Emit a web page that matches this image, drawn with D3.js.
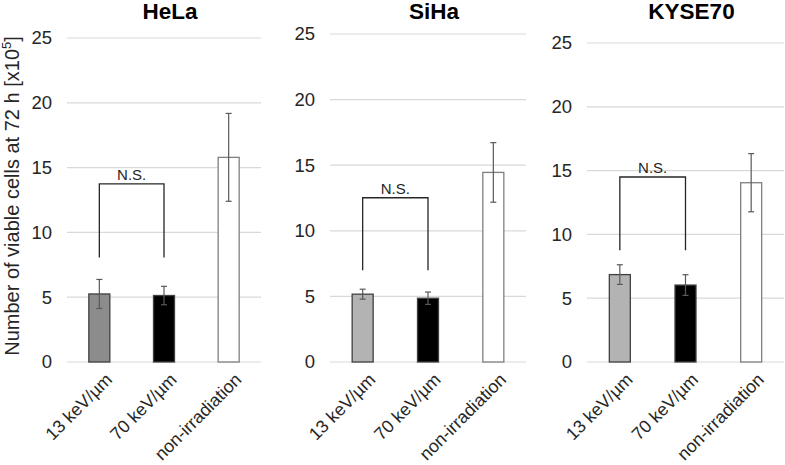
<!DOCTYPE html>
<html><head><meta charset="utf-8">
<script src="https://cdn.jsdelivr.net/npm/d3@7"></script>
<style>body{margin:0;background:#fff}svg{display:block;font-family:Arial,"Liberation Sans",sans-serif}</style>
</head><body><svg id="c" width="785" height="465"></svg>
<script>
const cellLines = ["HeLa", "SiHa", "KYSE70"];
const categories = ["13 keV/µm", "70 keV/µm", "non-irradiation"];
const helaMeans = [5.25, 5.13, 15.79];
const helaErrors = [1.12, 0.71, 3.39];
const sihaMeans = [5.17, 4.86, 14.45];
const sihaErrors = [0.38, 0.47, 2.27];
const kyseMeans = [6.85, 6.03, 14.05];
const kyseErrors = [0.77, 0.81, 2.28];
const bracketTops = [13.74, 12.52, 14.5];
const bracketLegs = [8.06, 7.0, 8.75];
const yTicks = [0, 5, 10, 15, 20, 25];
const yLabel = "Number of viable cells at 72 h [x10";

const panels = [
  {name: cellLines[0], means: helaMeans, errs: helaErrors, top: bracketTops[0], leg: bracketLegs[0], x0: 67, x1: 261, y0: 362, y1: 38, fill1: "#8c8c8c"},
  {name: cellLines[1], means: sihaMeans, errs: sihaErrors, top: bracketTops[1], leg: bracketLegs[1], x0: 330, x1: 526, y0: 362, y1: 34, fill1: "#b3b3b3"},
  {name: cellLines[2], means: kyseMeans, errs: kyseErrors, top: bracketTops[2], leg: bracketLegs[2], x0: 587, x1: 784, y0: 362, y1: 43, fill1: "#b3b3b3"}
];

const svg = d3.select("#c");

panels.forEach(p => {
  const g = svg.append("g");
  const x = d3.scaleBand().domain(categories).range([p.x0, p.x1]);
  const y = d3.scaleLinear().domain([0, 25]).range([p.y0, p.y1]);
  const bw = 21;
  const cx = c => x(c) + x.bandwidth() / 2;

  g.selectAll(".grid").data(yTicks).enter().append("line")
    .attr("x1", p.x0).attr("x2", p.x1)
    .attr("y1", d => y(d)).attr("y2", d => y(d))
    .attr("stroke", "#d9d9d9").attr("stroke-width", 1.2);

  const yAxis = d3.axisLeft(y).tickValues(yTicks).tickSize(0).tickPadding(15);
  const ya = g.append("g").attr("transform", `translate(${p.x0},0)`).call(yAxis);
  ya.select(".domain").remove();
  ya.selectAll("text").attr("font-size", 18.5).attr("fill", "#262626")
    .attr("font-family", "Arial, 'Liberation Sans', sans-serif");

  g.selectAll(".xl").data(categories).enter().append("text")
    .attr("transform", d => `translate(${cx(d) + 5},${p.y0 + 10}) rotate(-45)`)
    .attr("text-anchor", "end").attr("font-size", 17.8).attr("fill", "#262626")
    .attr("dy", "0.7em")
    .text(d => d);

  const fills = [p.fill1, "#000000", "#ffffff"];
  const strokes = ["#404040", "#404040", "#7f7f7f"];
  g.selectAll(".bar").data(categories).enter().append("rect")
    .attr("x", d => cx(d) - bw / 2).attr("width", bw)
    .attr("y", (d, i) => y(p.means[i]))
    .attr("height", (d, i) => y(0) - y(p.means[i]))
    .attr("fill", (d, i) => fills[i])
    .attr("stroke", (d, i) => strokes[i]).attr("stroke-width", 1.3);

  categories.forEach((c, i) => {
    const hi = y(p.means[i] + p.errs[i]), lo = y(p.means[i] - p.errs[i]);
    const col = "#595959";
    g.append("line").attr("x1", cx(c)).attr("x2", cx(c)).attr("y1", hi).attr("y2", lo).attr("stroke", col).attr("stroke-width", 1.2);
    g.append("line").attr("x1", cx(c) - 3).attr("x2", cx(c) + 3).attr("y1", hi).attr("y2", hi).attr("stroke", col).attr("stroke-width", 1.2);
    g.append("line").attr("x1", cx(c) - 3).attr("x2", cx(c) + 3).attr("y1", lo).attr("y2", lo).attr("stroke", col).attr("stroke-width", 1.2);
  });

  const bx1 = cx(categories[0]), bx2 = cx(categories[1]);
  g.append("path")
    .attr("d", `M${bx1},${y(p.leg)}V${y(p.top)}H${bx2}V${y(p.leg)}`)
    .attr("fill", "none").attr("stroke", "#262626").attr("stroke-width", 1.3);
  g.append("text").attr("x", (bx1 + bx2) / 2).attr("y", y(p.top) - 4)
    .attr("text-anchor", "middle").attr("font-size", 15).attr("fill", "#262626").text("N.S.");

  g.append("text").attr("x", (p.x0 + p.x1) / 2 + 6).attr("y", 19)
    .attr("text-anchor", "middle").attr("font-size", 22.5).attr("font-weight", "bold")
    .attr("fill", "#000").text(p.name);
});

const yl = svg.append("text")
  .attr("transform", "translate(19,196) rotate(-90)")
  .attr("text-anchor", "middle").attr("font-size", 20).attr("fill", "#262626");
yl.append("tspan").text(yLabel);
yl.append("tspan").attr("font-size", 13).attr("dy", -8).text("5");
yl.append("tspan").attr("dy", 8).text("]");
</script></body></html>
